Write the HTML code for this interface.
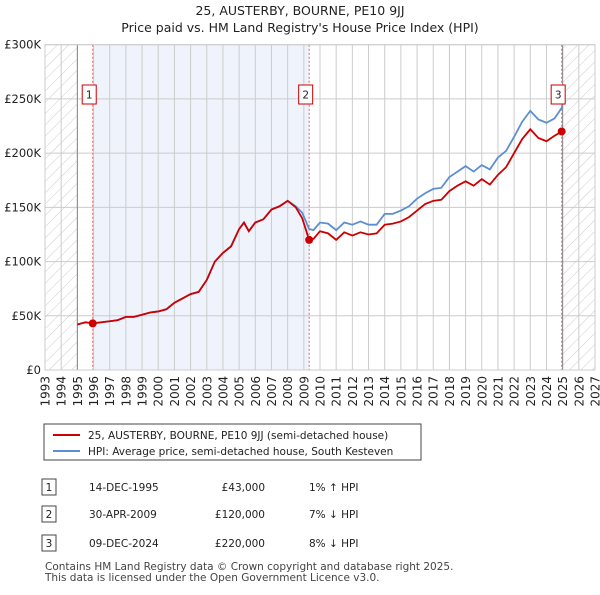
<!DOCTYPE html>
<html><head><meta charset="utf-8"><style>
body{margin:0;background:#fff;font-family:"Liberation Sans","DejaVu Sans",sans-serif;}
svg text{font-family:"DejaVu Sans","Liberation Sans",sans-serif;}
</style></head><body>
<svg id="c" width="600" height="590" viewBox="0 0 600 590" xmlns="http://www.w3.org/2000/svg">
<defs><pattern id="h" width="8" height="8" patternUnits="userSpaceOnUse" patternTransform="rotate(45)"><line x1="0" y1="0" x2="0" y2="8" stroke="#ccc" stroke-width="1"/></pattern></defs>
<text x="300" y="15" text-anchor="middle" font-size="12.5" fill="#222">25, AUSTERBY, BOURNE, PE10 9JJ</text>
<text x="300" y="32" text-anchor="middle" font-size="12.5" fill="#222">Price paid vs. HM Land Registry's House Price Index (HPI)</text>
<g id="plot"></g>
<g id="legend">
<rect x="44" y="424" width="377" height="36" fill="#fff" stroke="#444"/>
<line x1="53" y1="435" x2="80" y2="435" stroke="#cc0000" stroke-width="2"/>
<text x="88" y="439" font-size="10.5" fill="#222">25, AUSTERBY, BOURNE, PE10 9JJ (semi-detached house)</text>
<line x1="53" y1="451" x2="80" y2="451" stroke="#5b8fd0" stroke-width="2"/>
<text x="88" y="455" font-size="10.5" fill="#222">HPI: Average price, semi-detached house, South Kesteven</text>
</g>
<g font-size="10.5" fill="#222">
<rect x="42" y="479" width="14" height="16" fill="#fff" stroke="#444"/><text x="49" y="491" text-anchor="middle">1</text>
<text x="89" y="491">14-DEC-1995</text><text x="265" y="491" text-anchor="end">£43,000</text><text x="309" y="491">1% ↑ HPI</text>
<rect x="42" y="506" width="14" height="16" fill="#fff" stroke="#444"/><text x="49" y="518" text-anchor="middle">2</text>
<text x="89" y="518">30-APR-2009</text><text x="265" y="518" text-anchor="end">£120,000</text><text x="309" y="518">7% ↓ HPI</text>
<rect x="42" y="535" width="14" height="16" fill="#fff" stroke="#444"/><text x="49" y="547" text-anchor="middle">3</text>
<text x="89" y="547">09-DEC-2024</text><text x="265" y="547" text-anchor="end">£220,000</text><text x="309" y="547">8% ↓ HPI</text>
</g>
<text x="45" y="570" font-size="10.5" fill="#444">Contains HM Land Registry data © Crown copyright and database right 2025.</text>
<text x="45" y="581" font-size="10.5" fill="#444">This data is licensed under the Open Government Licence v3.0.</text>
</svg>
<script>
const yTicks=[0,50,100,150,200,250,300];
const yTickLabels=["£0","£50K","£100K","£150K","£200K","£250K","£300K"];
const years=[1993,1994,1995,1996,1997,1998,1999,2000,2001,2002,2003,2004,2005,2006,2007,2008,2009,2010,2011,2012,2013,2014,2015,2016,2017,2018,2019,2020,2021,2022,2023,2024,2025,2026,2027];
const redT=[1995.0,1995.5,1995.95,1996.5,1997,1997.5,1998,1998.5,1999,1999.5,2000,2000.5,2001,2001.5,2002,2002.5,2003,2003.5,2004,2004.5,2005,2005.3,2005.6,2006,2006.5,2007,2007.5,2008,2008.5,2008.9,2009.33,2009.6,2010,2010.5,2011,2011.5,2012,2012.5,2013,2013.5,2014,2014.5,2015,2015.5,2016,2016.5,2017,2017.5,2018,2018.5,2019,2019.5,2020,2020.5,2021,2021.5,2022,2022.5,2023,2023.5,2024,2024.5,2024.95];
const redV=[42,44,43,44,45,46,49,49,51,53,54,56,62,66,70,72,83,100,108,114,130,136,128,136,139,148,151,156,150,140,120,121,128,126,120,127,124,127,125,126,134,135,137,141,147,153,156,157,165,170,174,170,176,171,180,187,200,213,222,214,211,216,220];
const hpiT=[1995.0,1995.5,1995.95,1996.5,1997,1997.5,1998,1998.5,1999,1999.5,2000,2000.5,2001,2001.5,2002,2002.5,2003,2003.5,2004,2004.5,2005,2005.3,2005.6,2006,2006.5,2007,2007.5,2008,2008.5,2008.9,2009.33,2009.6,2010,2010.5,2011,2011.5,2012,2012.5,2013,2013.5,2014,2014.5,2015,2015.5,2016,2016.5,2017,2017.5,2018,2018.5,2019,2019.5,2020,2020.5,2021,2021.5,2022,2022.5,2023,2023.5,2024,2024.5,2025.0];
const hpiV=[42,44,43,44,45,46,49,49,51,53,54,56,62,66,70,72,83,100,108,114,130,136,128,136,139,148,151,156,151,145,130,129,136,135,129,136,134,137,134,134,144,144,147,151,158,163,167,168,178,183,188,183,189,185,196,202,215,229,239,231,228,232,243];
const sales=[[1995.95,43,"1"],[2009.33,120,"2"],[2024.94,220,"3"]];
const X0=45,X1=595,Y0=370,Y1=44.7;
const xs=t=>X0+(t-1993)/34*(X1-X0);
const ys=v=>Y0-v/300*(Y0-Y1);
const NS="http://www.w3.org/2000/svg";
const g=document.getElementById('plot');
function mk(tag,at,parent){const e=document.createElementNS(NS,tag);for(const k in at)e.setAttribute(k,at[k]);(parent||g).appendChild(e);return e;}
mk('rect',{x:xs(1995.95),y:Y1,width:xs(2009.33)-xs(1995.95),height:Y0-Y1,fill:'#eef3fc'});
mk('rect',{x:X0,y:Y1,width:xs(1995)-X0,height:Y0-Y1,fill:'url(#h)'});
mk('rect',{x:xs(2025),y:Y1,width:X1-xs(2025),height:Y0-Y1,fill:'url(#h)'});
years.forEach(y=>{
  const l=mk('line',{x1:xs(y),x2:xs(y),y1:Y1,y2:Y0,stroke:'#ccc','stroke-width':1});
  
  
  const t=mk('text',{transform:`translate(${xs(y)+4.5},${Y0+6}) rotate(-90)`,'text-anchor':'end','font-size':12,fill:'#222'});
  t.textContent=y;
  
  
});
yTicks.forEach((v,i)=>{
  const l=mk('line',{x1:X0,x2:X1,y1:ys(v),y2:ys(v),stroke:'#ccc','stroke-width':1});
  
  
  const t=mk('text',{x:X0-4,y:ys(v)+4,'text-anchor':'end','font-size':11.5,fill:'#222'});
  t.textContent=yTickLabels[i];
  
  
});
mk('line',{x1:xs(1995),x2:xs(1995),y1:Y1,y2:Y0,stroke:'#888','stroke-width':1});
mk('line',{x1:xs(2025),x2:xs(2025),y1:Y1,y2:Y0,stroke:'#888','stroke-width':1});
sales.forEach(s=>{
  const l=mk('line',{x1:xs(s[0]),x2:xs(s[0]),y1:Y1,y2:Y0,stroke:'#f06060','stroke-width':1,'stroke-dasharray':'2,2'});
  
  
});
const hp=mk('polyline',{points:hpiT.map((t,i)=>xs(t)+','+ys(hpiV[i])).join(' '),fill:'none',stroke:'#5b8fd0','stroke-width':1.8});


const rp=mk('polyline',{points:redT.map((t,i)=>xs(t)+','+ys(redV[i])).join(' '),fill:'none',stroke:'#cc0000','stroke-width':1.8});


sales.forEach(s=>{
  const c=mk('circle',{cx:xs(s[0]),cy:ys(s[1]),r:4,fill:'#cc0000'});
  
  
  const bx=xs(s[0])-3.5;
  const r=mk('rect',{x:bx-7,y:85,width:14,height:19,fill:'#fff',stroke:'#cc0000'});
  
  
  const t=mk('text',{x:bx,y:98.5,'text-anchor':'middle','font-size':10.5,fill:'#222'});
  t.textContent=s[2];
  
  
});
mk('rect',{x:X0,y:Y1,width:X1-X0,height:Y0-Y1,fill:'none',stroke:'#ccc'});
</script>
</body></html>
